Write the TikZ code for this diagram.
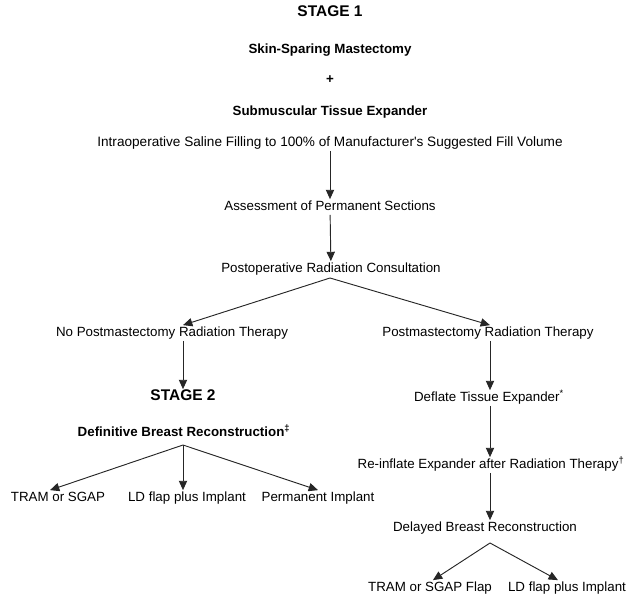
\documentclass[tikz,border=0pt]{standalone}
\usepackage{fontspec}
\setmainfont{Liberation Sans}
\usetikzlibrary{arrows.meta, positioning, calc}

\tikzset{
  txt/.style={inner sep=1pt, font=\fontsize{10}{12}\selectfont, text height=7.4pt, text depth=2pt},
  head/.style={txt, font=\fontsize{10}{12}\selectfont\bfseries},
  stagehead/.style={txt, font=\fontsize{11.6}{14}\selectfont\bfseries},
  arr/.style={-{Triangle[length=7pt, width=6.2pt]}, line width=0.7pt, black!85}
}

\begin{document}
\begin{tikzpicture}[x=0.75pt, y=-0.75pt]
    \useasboundingbox (0,0) rectangle (629,599);

    % Stage 1 column
    \node[stagehead] (stageone) at (330,13) {STAGE 1};
    \node[head] (ssm) at (330,50) {Skin-Sparing Mastectomy};
    \node[head] (plus) at (330,80) {+};
    \node[head] (ste) at (330,112) {Submuscular Tissue Expander};
    \node[txt, font=\fontsize{10.2}{12}\selectfont] (fill) at (330,143) {Intraoperative Saline Filling to 100\% of Manufacturer\textquotesingle s Suggested Fill Volume};
    \node[txt] (assess) at (330,207) {Assessment of Permanent Sections};
    \node[txt] (consult) at (331,269) {Postoperative Radiation Consultation};
    \coordinate (consultsplit) at (330,278);

    \draw[arr] (fill.south -| assess) -- (assess);
    \draw[arr] (assess) -- (consult);

    % no radiation therapy branch
    \node[txt] (nopmrt) at (172,333) {No Postmastectomy Radiation Therapy};
    \node[stagehead] (stagetwo) at (183,397) {STAGE 2};
    \node[head] (definitive) at (184,433) {Definitive Breast Reconstruction\textsuperscript{‡}};
    \coordinate (defsplit) at (183,445);
    \node[txt] (tram) at (58,498) {TRAM or SGAP};
    \node[txt] (ldflap) at (187,498) {LD flap plus Implant};
    \node[txt] (perm) at (318,498) {Permanent Implant};

    \draw[arr] (consultsplit) -- (nopmrt.north -| stagetwo);
    \draw[arr] (nopmrt.south -| stagetwo) -- (stagetwo);
    \draw[arr] (defsplit) -- (tram.north -| 50,0);
    \draw[arr] (defsplit) -- (ldflap.north -| defsplit);
    \draw[arr] (defsplit) -- (perm.north);

    % radiation therapy branch
    \node[txt] (pmrt) at (488,333) {Postmastectomy Radiation Therapy};
    \node[txt] (deflate) at (489,398) {Deflate Tissue Expander\textsuperscript{*}};
    \node[txt] (reinflate) at (491,465) {Re-inflate Expander after Radiation Therapy\textsuperscript{†}};
    \node[txt] (delayed) at (485,528) {Delayed Breast Reconstruction};
    \coordinate (rcol) at (490,0);
    \coordinate (delsplit) at (490,543);
    \node[txt] (tramflap) at (430,588) {TRAM or SGAP Flap};
    \node[txt] (ldimpl) at (567,588) {LD flap plus Implant};

    \draw[arr] (consultsplit) -- (pmrt.north -| rcol);
    \draw[arr] (pmrt.south -| rcol) -- (deflate.north -| rcol);
    \draw[arr] (deflate.south -| rcol) -- (reinflate.north -| rcol);
    \draw[arr] (reinflate.south -| rcol) -- (delayed.north -| rcol);
    \draw[arr] (delsplit) -- ([xshift=2.2pt]tramflap.north);
    \draw[arr] (delsplit) -- ([xshift=-6.8pt]ldimpl.north);

\end{tikzpicture}
\end{document}
